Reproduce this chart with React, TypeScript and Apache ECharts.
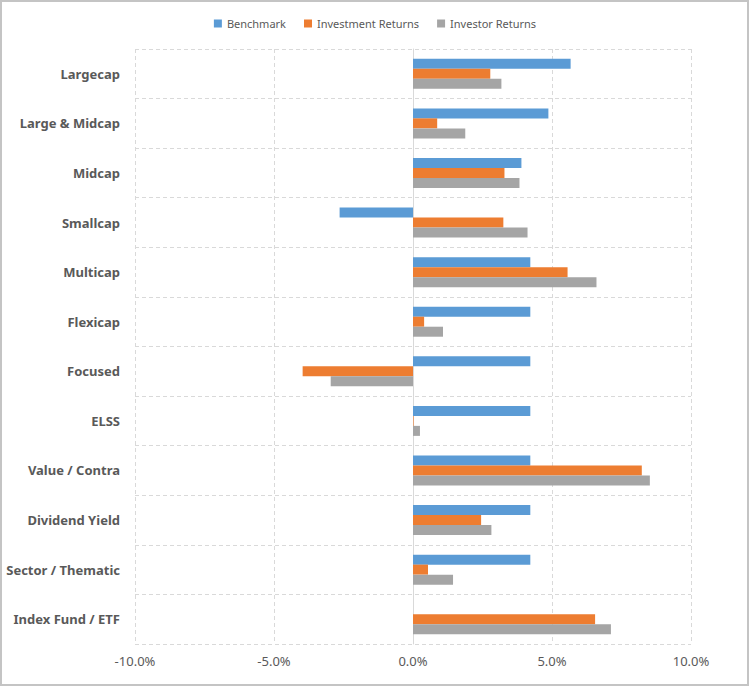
import React, { useEffect, useRef } from "react";
import * as echarts from "echarts";

const categories = [
  "Largecap",
  "Large & Midcap",
  "Midcap",
  "Smallcap",
  "Multicap",
  "Flexicap",
  "Focused",
  "ELSS",
  "Value / Contra",
  "Dividend Yield",
  "Sector / Thematic",
  "Index Fund / ETF",
];

const benchmark = [5.67, 4.87, 3.9, -2.64, 4.22, 4.22, 4.22, 4.22, 4.22, 4.22, 4.22, 0];
const investmentReturns = [2.78, 0.87, 3.29, 3.25, 5.56, 0.4, -3.97, 0.02, 8.23, 2.45, 0.54, 6.55];
const investorReturns = [3.18, 1.88, 3.83, 4.12, 6.6, 1.08, -2.96, 0.25, 8.52, 2.82, 1.44, 7.12];

const seriesNames = ["Benchmark", "Investment Returns", "Investor Returns"];
const colors = ["#5B9BD5", "#ED7D31", "#A5A5A5"];

export default function App() {
  const ref = useRef<HTMLDivElement>(null);

  useEffect(() => {
    document.body.style.margin = "0";
    if (!ref.current) return;
    const chart = echarts.init(ref.current, undefined, { renderer: "svg" });
    const data = [benchmark, investmentReturns, investorReturns];
    chart.setOption({
      animation: false,
      backgroundColor: "#ffffff",
      color: colors,
      graphic: [
        {
          type: "rect",
          shape: { x: 1, y: 1, width: 747, height: 684 },
          style: { fill: "none", stroke: "#C4C4C4", lineWidth: 2 },
          silent: true,
        },
      ],
      legend: {
        top: 13,
        left: "center",
        itemWidth: 8,
        itemHeight: 8,
        itemGap: 18,
        icon: "rect",
        textStyle: { color: "#595959", fontSize: 11, fontFamily: "Noto Sans" },
        data: seriesNames,
      },
      grid: {
        left: 135,
        right: 59,
        top: 49,
        bottom: 43,
        containLabel: false,
        outerBoundsMode: "none",
      },
      xAxis: {
        type: "value",
        min: -10,
        max: 10,
        interval: 5,
        axisLine: { show: false },
        axisTick: { show: false },
        axisLabel: {
          color: "#595959",
          fontSize: 13,
          fontFamily: "Noto Sans",
          margin: 10,
          formatter: (v: number) => v.toFixed(1) + "%",
        },
        splitLine: {
          show: true,
          lineStyle: { color: "#D9D9D9", type: [4, 3], width: 1 },
        },
      },
      yAxis: {
        type: "category",
        inverse: true,
        data: categories,
        axisLine: { show: true, onZero: true, lineStyle: { color: "#D9D9D9", width: 1 } },
        axisTick: { show: false },
        axisLabel: {
          color: "#595959",
          fontSize: 13,
          fontWeight: "bold",
          fontFamily: "Noto Sans",
          margin: 15,
        },
        splitLine: {
          show: true,
          lineStyle: { color: "#D9D9D9", type: [4, 3], width: 1 },
        },
      },
      series: seriesNames.map((name, i) => ({
        name,
        type: "bar",
        data: data[i],
        barWidth: 10,
        barGap: "0%",
        itemStyle: { color: colors[i] },
      })),
    });
    return () => chart.dispose();
  }, []);

  return <div ref={ref} style={{ width: 750, height: 687 }} />;
}
